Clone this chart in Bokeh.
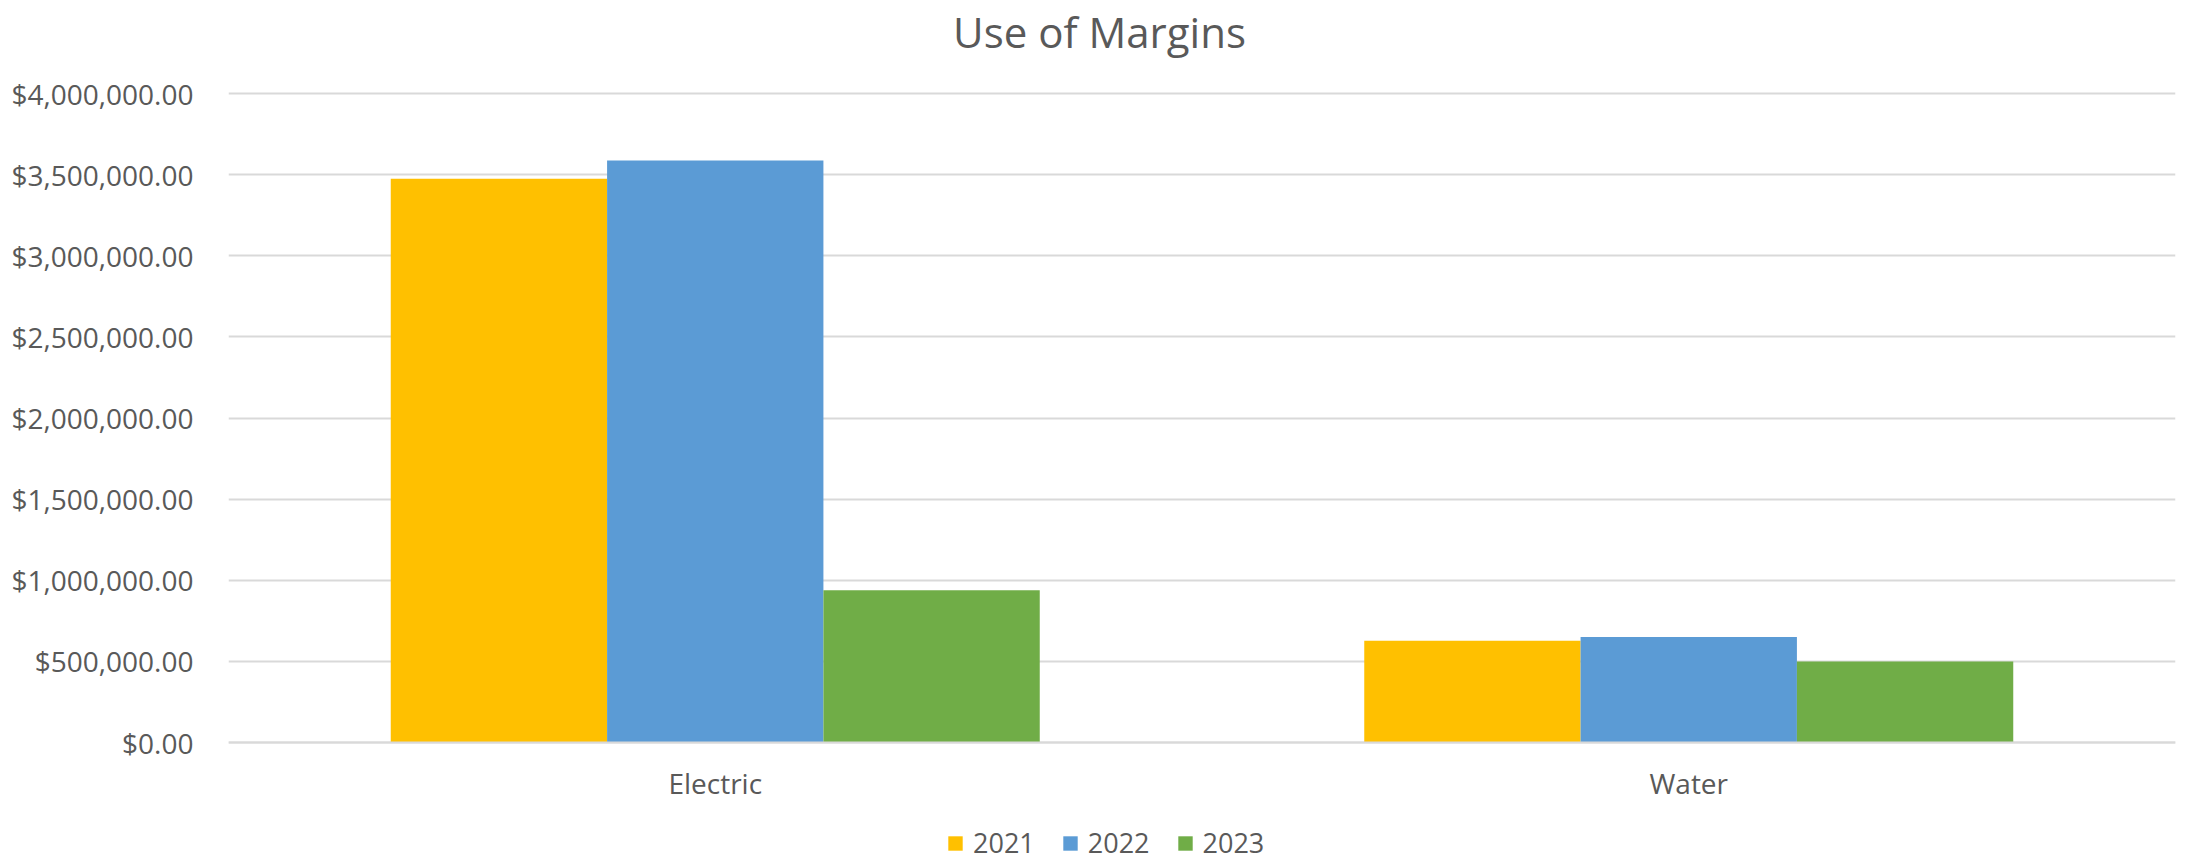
from bokeh.plotting import figure
from bokeh.models import (FactorRange, NumeralTickFormatter, FixedTicker, Legend,
                          LegendItem, Label, ColumnDataSource, Range1d)
from bokeh.transform import dodge
from bokeh.embed import file_html
from bokeh.resources import INLINE

categories = ["Electric", "Water"]
years = ["2021", "2022", "2023"]
values_2021 = [3475000, 627000]
values_2022 = [3587000, 651000]
values_2023 = [939000, 500000]
y_ticks = [0, 500000, 1000000, 1500000, 2000000, 2500000, 3000000, 3500000, 4000000]
colors = ["#FFC000", "#5B9BD5", "#70AD47"]
title_text = "Use of Margins"

FONT = "Open Sans"
TXT = "#595959"

W, H = 2186, 861
PLOT_TOP, PLOT_BOTTOM = 93, 742          # pixel rows of $4,000,000 and $0
Y_MAX = 4000000
upp = Y_MAX / (PLOT_BOTTOM - PLOT_TOP)    # data units per pixel
y_start = -(H - PLOT_BOTTOM) * upp
y_end = Y_MAX + PLOT_TOP * upp

source = ColumnDataSource(data=dict(cat=categories, y2021=values_2021,
                                    y2022=values_2022, y2023=values_2023))

p = figure(width=W, height=H, x_range=FactorRange(*categories, range_padding=0),
           y_range=Range1d(y_start, y_end), output_backend="svg", toolbar_location=None,
           min_border_left=228, min_border_right=11, min_border_top=0,
           min_border_bottom=0)
p.title = None
p.outline_line_color = None
p.background_fill_color = "white"
p.border_fill_color = "white"

bw = 1 / 4.5
renderers = []
for i, (col, c) in enumerate(zip(["y2021", "y2022", "y2023"], colors)):
    r = p.vbar(x=dodge("cat", (i - 1) * bw, range=p.x_range), top=col, width=bw,
               source=source, fill_color=c, line_color=None)
    renderers.append(r)

# axes
p.yaxis.ticker = FixedTicker(ticks=y_ticks)
p.yaxis.formatter = NumeralTickFormatter(format="$0,0.00")
p.yaxis.axis_line_color = None
p.yaxis.major_tick_line_color = None
p.yaxis.minor_tick_line_color = None
p.yaxis.major_label_standoff = 29
p.yaxis.major_label_text_font = FONT
p.yaxis.major_label_text_font_size = "28px"
p.yaxis.major_label_text_color = TXT

p.xaxis.fixed_location = 0
p.xaxis.axis_line_color = "#D9D9D9"
p.xaxis.axis_line_width = 2
p.xaxis.major_tick_line_color = None
p.xaxis.minor_tick_line_color = None
p.xaxis.major_label_standoff = 15
p.xaxis.major_label_text_font = FONT
p.xaxis.major_label_text_font_size = "28px"
p.xaxis.major_label_text_color = TXT

p.xgrid.grid_line_color = None
p.ygrid.ticker = FixedTicker(ticks=y_ticks)
p.ygrid.grid_line_color = "#D9D9D9"
p.ygrid.grid_line_width = 2

# title (screen units relative to the plot frame)
title = Label(x=1099 - 228, y=H - 31, x_units="screen", y_units="screen", text=title_text,
              text_align="center", text_baseline="alphabetic", text_font=FONT,
              text_font_size="42px", text_color=TXT)
p.add_layout(title)

# legend
items = [LegendItem(label=y, renderers=[r]) for y, r in zip(years, renderers)]
legend = Legend(items=items, orientation="horizontal", location=(718, 0),
                glyph_width=18, glyph_height=18, label_standoff=9, spacing=26,
                padding=0, margin=0, border_line_color=None, background_fill_alpha=0,
                label_text_font=FONT, label_text_font_size="27px", label_text_color=TXT)
p.add_layout(legend, "center")

open("out.html", "w").write(file_html(p, INLINE))
